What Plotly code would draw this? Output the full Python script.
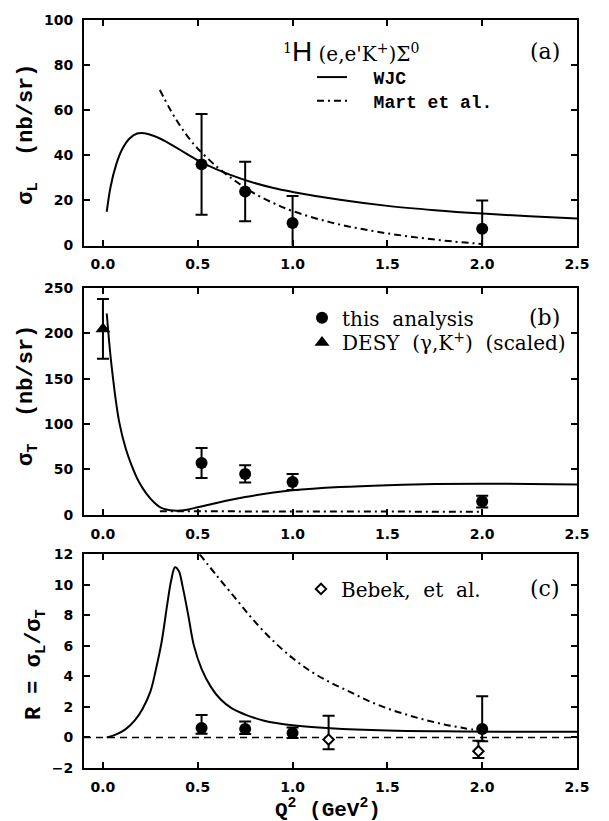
import plotly.graph_objects as go

# ---------------- data ----------------
q2_pts = [0.52, 0.75, 1.0, 2.0]

sigL = [36, 24, 10, 7.5]
sigL_err = [22.3, 13.2, 12, 12.5]

sigT = [57, 45, 36, 14.5]
sigT_err = [16.5, 9.5, 8.8, 6.5]

desy_q2 = [0.0]
desy_sigT = [205]
desy_err = [33]

R = [0.62, 0.55, 0.3, 0.55]
R_err_up = [0.85, 0.5, 0.36, 2.15]
R_err_dn = [0.38, 0.32, 0.33, 0.8]

bebek_q2 = [1.19, 1.98]
bebek_R = [-0.14, -0.9]
bebek_up = [1.56, 0.69]
bebek_dn = [0.63, 0.45]

wjc_a_x = [0.02, 0.04, 0.07, 0.1, 0.14, 0.18, 0.22, 0.27, 0.33, 0.4, 0.5, 0.6, 0.75, 0.9, 1.0, 1.25, 1.5, 1.75, 2.0, 2.25, 2.5]
wjc_a_y = [15, 26, 36, 42.5, 47.5, 49.7, 49.8, 48.6, 46.2, 42.8, 37.8, 33.8, 29, 25.5, 23.8, 20.3, 17.6, 15.7, 14.2, 13, 12]

mart_a_x = [0.3, 0.35, 0.4, 0.45, 0.5, 0.6, 0.7, 0.8, 0.9, 1.0, 1.2, 1.4, 1.6, 1.8, 2.0]
mart_a_y = [69, 61, 54, 48, 43, 35, 28.5, 23, 18.8, 15.3, 10.3, 6.8, 4.2, 2.2, 0.7]

wjc_b_x = [0.02, 0.045, 0.085, 0.12, 0.15, 0.19, 0.23, 0.27, 0.3, 0.34, 0.37, 0.41, 0.45, 0.5, 0.6, 0.75, 0.9, 1.0, 1.25, 1.5, 1.75, 2.0, 2.25, 2.5]
wjc_b_y = [222, 165, 103, 73, 55, 36, 23, 13.5, 8.5, 5.5, 4.6, 4.6, 5.8, 8.2, 13, 19.5, 24.5, 27, 30.5, 32.6, 33.8, 34.2, 34, 33.2]

mart_b_x = [0.3, 0.7, 1.0, 1.5, 2.0]
mart_b_y = [3.8, 3.6, 3.5, 3.4, 3.3]

wjc_c_x = [0.02, 0.07, 0.12, 0.17, 0.21, 0.25, 0.28, 0.31, 0.34, 0.36, 0.38, 0.40, 0.42, 0.45, 0.48, 0.52, 0.57, 0.62, 0.68, 0.75, 0.85, 1.0, 1.2, 1.5, 1.8, 2.1, 2.5]
wjc_c_y = [0.0, 0.2, 0.55, 1.15, 1.9, 3.0, 4.5, 6.3, 8.8, 10.3, 11.15, 10.9, 9.9, 8.0, 6.0, 4.5, 3.3, 2.5, 1.9, 1.5, 1.1, 0.8, 0.6, 0.45, 0.4, 0.38, 0.37]

mart_c_x = [0.51, 0.6, 0.7, 0.8, 0.9, 1.0, 1.1, 1.2, 1.3, 1.4, 1.5, 1.6, 1.7, 1.8, 1.9, 2.0]
mart_c_y = [12.0, 10.6, 9.1, 7.6, 6.3, 5.2, 4.3, 3.6, 3.0, 2.4, 1.9, 1.5, 1.15, 0.85, 0.62, 0.42]

zero_x = [-0.1, 2.5]
zero_y = [0, 0]

x_ticks = [0.0, 0.5, 1.0, 1.5, 2.0, 2.5]
x_ticklabels = ["0.0", "0.5", "1.0", "1.5", "2.0", "2.5"]

# ---------------- layout helpers ----------------
W, H = 609, 821
L, Rm, T, B = 84, 32, 12, 53
PW = W - L - Rm
PH = H - T - B


def px_x(px):
    return (px - L) / PW


def px_y(px):
    return (H - B - px) / PH


def dom(top_px, bot_px):
    return [px_y(bot_px), px_y(top_px)]


TICKFONT = dict(family="DejaVu Sans", size=14, color="black", weight="bold")
TITLEFONT = dict(family="Liberation Mono", size=22, color="black", weight="bold")
LEGMONO = dict(family="Liberation Mono", size=18, color="black", weight="bold")
SERIF = dict(family="DejaVu Serif", size=20, color="black")
DASHDOT = "7px,4px,2px,4px"

fig = go.Figure()


def eb(arr, arrm=None):
    d = dict(type="data", array=arr, color="black", thickness=2, width=6, visible=True)
    if arrm is not None:
        d["arrayminus"] = arrm
        d["symmetric"] = False
    return d


# panel (a)
fig.add_trace(go.Scatter(x=wjc_a_x, y=wjc_a_y, mode="lines", line=dict(color="black", width=2, shape="spline"),
                         name="  WJC", xaxis="x", yaxis="y", legend="legend"))
fig.add_trace(go.Scatter(x=mart_a_x, y=mart_a_y, mode="lines",
                         line=dict(color="black", width=2, dash=DASHDOT, shape="spline"),
                         name="  Mart et al.", xaxis="x", yaxis="y", legend="legend2"))
fig.add_trace(go.Scatter(x=q2_pts, y=sigL, mode="markers", marker=dict(color="black", size=12),
                         error_y=eb(sigL_err), showlegend=False, xaxis="x", yaxis="y"))

# panel (b)
fig.add_trace(go.Scatter(x=wjc_b_x, y=wjc_b_y, mode="lines", line=dict(color="black", width=2, shape="spline"),
                         showlegend=False, xaxis="x2", yaxis="y2"))
fig.add_trace(go.Scatter(x=mart_b_x, y=mart_b_y, mode="lines", line=dict(color="black", width=2, dash=DASHDOT),
                         showlegend=False, xaxis="x2", yaxis="y2"))
fig.add_trace(go.Scatter(x=q2_pts, y=sigT, mode="markers", marker=dict(color="black", size=12),
                         error_y=eb(sigT_err), name="this  analysis", xaxis="x2", yaxis="y2", legend="legend3"))
fig.add_trace(go.Scatter(x=desy_q2, y=desy_sigT, mode="markers",
                         marker=dict(color="black", size=13, symbol="triangle-up"),
                         error_y=eb(desy_err), name="DESY  (γ,K<sup>+</sup>)  (scaled)", xaxis="x2", yaxis="y2",
                         legend="legend4"))

# panel (c)
fig.add_trace(go.Scatter(x=zero_x, y=zero_y, mode="lines", line=dict(color="black", width=1.5, dash="7px,5px"),
                         showlegend=False, xaxis="x3", yaxis="y3"))
fig.add_trace(go.Scatter(x=wjc_c_x, y=wjc_c_y, mode="lines", line=dict(color="black", width=2, shape="spline"),
                         showlegend=False, xaxis="x3", yaxis="y3"))
fig.add_trace(go.Scatter(x=mart_c_x, y=mart_c_y, mode="lines",
                         line=dict(color="black", width=2, dash=DASHDOT, shape="spline"),
                         showlegend=False, xaxis="x3", yaxis="y3"))
fig.add_trace(go.Scatter(x=q2_pts, y=R, mode="markers", marker=dict(color="black", size=12),
                         error_y=eb(R_err_up, R_err_dn), showlegend=False, xaxis="x3", yaxis="y3"))
fig.add_trace(go.Scatter(x=bebek_q2, y=bebek_R, mode="markers",
                         marker=dict(color="white", size=8, symbol="diamond", line=dict(color="black", width=2)),
                         error_y=eb(bebek_up, bebek_dn), name="Bebek,  et  al.", xaxis="x3", yaxis="y3",
                         legend="legend5"))

xcommon = dict(range=[-0.1, 2.5], tickvals=x_ticks, ticktext=x_ticklabels, ticks="inside", ticklen=6, tickwidth=2,
               tickcolor="black", showline=True, linecolor="black", linewidth=2, mirror="ticks",
               showgrid=False, zeroline=False, tickfont=TICKFONT, ticklabelstandoff=5)
ycommon = dict(ticks="inside", ticklen=6, tickwidth=2, tickcolor="black", showline=True, linecolor="black",
               linewidth=2, mirror="ticks", showgrid=False, zeroline=False, tickfont=TICKFONT,
               ticklabelstandoff=6)


def leg(xpx, ypx, font):
    return dict(x=px_x(xpx), y=px_y(ypx), xanchor="left", yanchor="middle", font=font,
                bgcolor="rgba(0,0,0,0)", itemwidth=30, borderwidth=0)


fig.update_layout(
    width=W, height=H,
    margin=dict(l=L, r=Rm, t=T, b=B),
    plot_bgcolor="white", paper_bgcolor="white",
    xaxis=dict(xcommon, anchor="y", domain=[0, 1]),
    yaxis=dict(ycommon, anchor="x", domain=dom(12, 240), range=[0, 100], tickvals=[0, 20, 40, 60, 80, 100]),
    xaxis2=dict(xcommon, anchor="y2", domain=[0, 1]),
    yaxis2=dict(ycommon, anchor="x2", domain=dom(283, 512), range=[0, 250], tickvals=[0, 50, 100, 150, 200, 250]),
    xaxis3=dict(xcommon, anchor="y3", domain=[0, 1]),
    yaxis3=dict(ycommon, anchor="x3", domain=dom(552, 768), range=[-2, 12], tickvals=[-2, 0, 2, 4, 6, 8, 10, 12],
                ticktext=["−2", "0", "2", "4", "6", "8", "10", "12"]),
    legend=leg(312, 70, LEGMONO),
    legend2=leg(312, 94, LEGMONO),
    legend3=leg(302, 313, SERIF),
    legend4=leg(302, 338, SERIF),
    legend5=leg(301, 587, SERIF),
    showlegend=True,
)

# axis titles
for txt, xpx, ypx in [("σ<sub>L</sub>  (nb/sr)", 28, 128),
                      ("σ<sub>T</sub>  (nb/sr)", 28, 392),
                      ("R = σ<sub>L</sub>/σ<sub>T</sub>", 36, 664)]:
    fig.add_annotation(xref="paper", yref="paper", x=px_x(xpx), y=px_y(ypx), xanchor="center", yanchor="middle",
                       textangle=-90, showarrow=False, text=txt, font=TITLEFONT)
fig.add_annotation(xref="paper", yref="paper", x=px_x(328), y=px_y(809), xanchor="center", yanchor="middle",
                   showarrow=False, text="Q<sup>2</sup> (GeV<sup>2</sup>)", font=dict(TITLEFONT, size=21))

fig.add_annotation(xref="paper", yref="paper", x=px_x(281), y=px_y(44), xanchor="left", yanchor="middle",
                   showarrow=False,
                   text="<sup>1</sup><span style='font-family:Liberation Sans;font-size:28px'>H</span> (e,e'K<sup>+</sup>)Σ<sup>0</sup>",
                   font=dict(family="DejaVu Serif", size=20, color="black"))
for lab, ypx in [("(a)", 44), ("(b)", 313), ("(c)", 587)]:
    fig.add_annotation(xref="paper", yref="paper", x=px_x(562), y=px_y(ypx), xanchor="right", yanchor="middle",
                       showarrow=False, text=lab, font=dict(family="DejaVu Serif", size=22, color="black"))

fig.write_html("out.html", config={"displayModeBar": False},
               post_script="document.body.style.margin='0';document.body.style.overflow='hidden';")
